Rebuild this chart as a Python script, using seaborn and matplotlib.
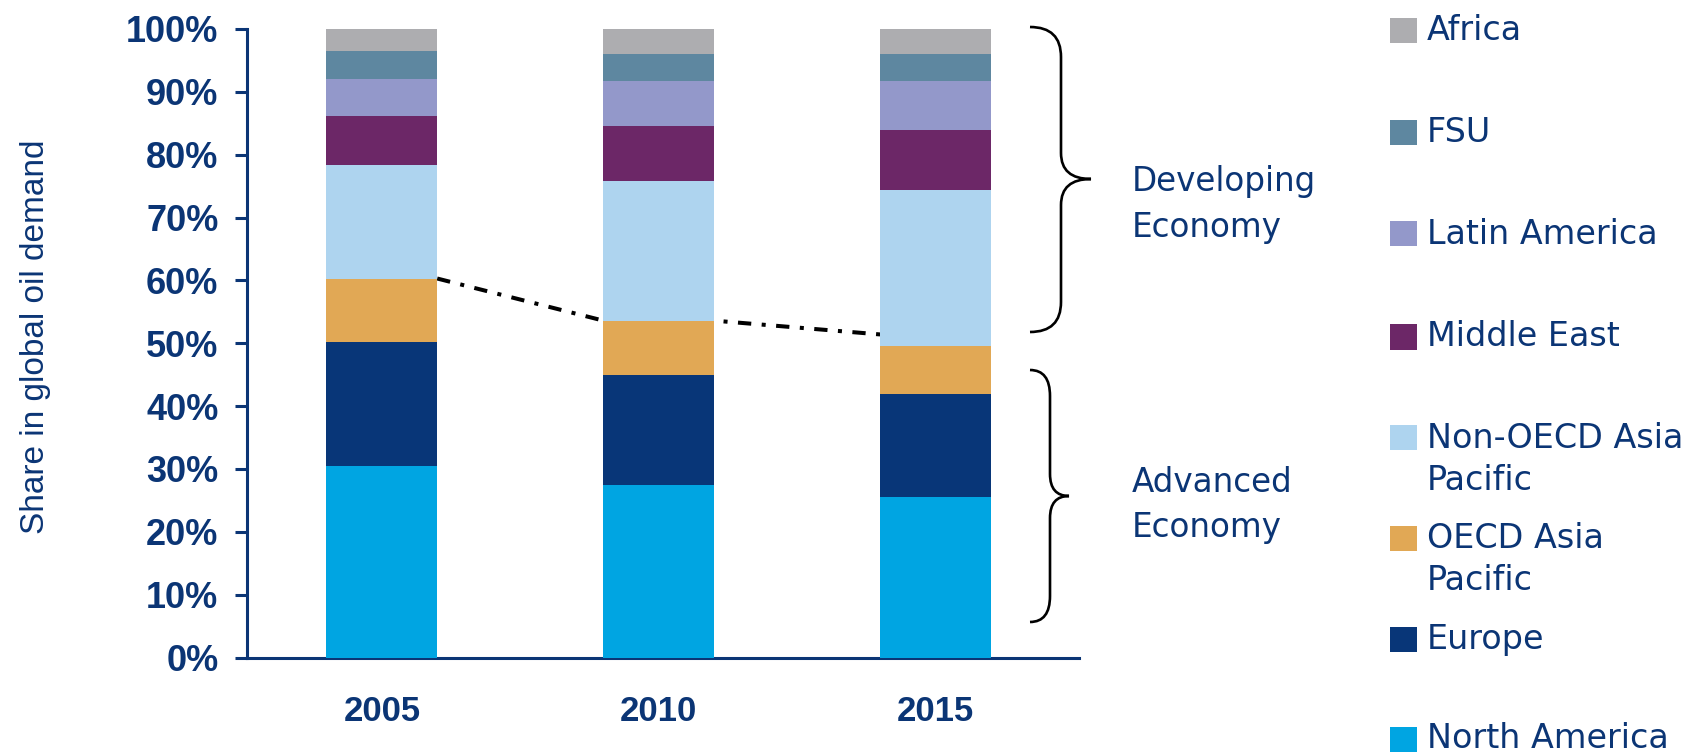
import matplotlib
matplotlib.use("Agg")
import matplotlib.pyplot as plt
import seaborn as sns
import numpy as np
from matplotlib.path import Path
from matplotlib.patches import PathPatch, Rectangle
from matplotlib.ticker import PercentFormatter, FixedLocator

# Share in global oil demand (%) by region
years = ["2005", "2010", "2015"]
north_america = [30.4, 27.4, 25.5]
europe = [19.8, 17.6, 16.5]
oecd_asia_pacific = [10.1, 8.6, 7.6]
non_oecd_asia_pacific = [18.1, 22.2, 24.8]
middle_east = [7.7, 8.7, 9.6]
latin_america = [6.0, 7.2, 7.7]
fsu = [4.4, 4.4, 4.4]
africa = [3.5, 3.9, 3.9]

# bottom-to-top stacking order
regions = ["North America", "Europe", "OECD Asia Pacific", "Non-OECD Asia Pacific",
           "Middle East", "Latin America", "FSU", "Africa"]
series = [north_america, europe, oecd_asia_pacific, non_oecd_asia_pacific,
          middle_east, latin_america, fsu, africa]
colors = ["#00A5E2", "#083678", "#E1A855", "#AED4EF",
          "#6C2767", "#9398CA", "#5E87A0", "#ADADB0"]
legend_labels = {
    "Non-OECD Asia Pacific": ["Non-OECD Asia", "Pacific"],
    "OECD Asia Pacific": ["OECD Asia", "Pacific"],
}
y_ticks = list(range(0, 101, 10))
trend_end_share = 51.4  # where the dash-dot guide meets the 2015 bar

NAVY = "#0B3575"
W, H = 1697, 755

sns.set_style("white")
plt.rcParams["font.family"] = ["DejaVu Sans"]

fig = plt.figure(figsize=(W / 100, H / 100), dpi=100)
ax = fig.add_axes([247 / W, 1 - 657.5 / H, 832 / W, (657.5 - 29) / H])


def px(x, y):
    """Figure pixel (from top-left) to figure fraction."""
    return x / W, 1 - y / H


# stacked bars: draw cumulative totals from the top segment down
cum = np.cumsum(np.array(series), axis=0)
for i in range(len(series) - 1, -1, -1):
    sns.barplot(x=years, y=cum[i], color=colors[i], width=0.4, saturation=1,
                ax=ax, linewidth=0, edgecolor="none", zorder=3)

# dash-dot guide along the advanced/developing boundary
adv_top = cum[2]
ax.plot([0.2, 0.8, 1.2, 1.8],
        [adv_top[0], adv_top[1], adv_top[1], trend_end_share],
        color="black", lw=2.9, linestyle=(0, (3.3, 2.6, 1, 2.6)),
        solid_capstyle="butt", dash_capstyle="butt", zorder=1)

ax.set_xlim(-0.487, 2.518)
ax.set_ylim(0, 100)
ax.yaxis.set_major_locator(FixedLocator(y_ticks))
ax.yaxis.set_major_formatter(PercentFormatter(100, decimals=0))
ax.set_xticks([0, 1, 2])
ax.set_xticklabels(years)
ax.xaxis.set_minor_locator(FixedLocator([-0.487, 0.514, 1.514, 2.518]))
ax.tick_params(axis="x", which="major", length=0, pad=27)
ax.tick_params(axis="x", which="minor", length=8, width=2.2, color=NAVY, direction="out")
ax.tick_params(axis="y", length=8.6, width=2.2, color=NAVY, direction="out", pad=12,
               left=True)
for lab in ax.get_yticklabels():
    lab.set_fontsize(26)
    lab.set_fontweight("bold")
    lab.set_color(NAVY)
    lab.set_family(["Liberation Sans"])
for lab in ax.get_xticklabels():
    lab.set_fontsize(25)
    lab.set_fontweight("bold")
    lab.set_color(NAVY)
    lab.set_family(["Liberation Sans"])

for s in ["top", "right"]:
    ax.spines[s].set_visible(False)
for s in ["left", "bottom"]:
    ax.spines[s].set_color(NAVY)
    ax.spines[s].set_linewidth(2.2)
ax.set_xlabel("")
ax.set_ylabel("")

fig.text(*px(36, 337), "Share in global oil demand", rotation=90, ha="center",
         va="center", fontsize=24, color=NAVY, family=["Liberation Sans"])


def brace(x0, x1, x2, ytop, ymid, ybot, r, rm):
    verts = [px(x0, ytop), px(x1, ytop), px(x1, ytop + r),
             px(x1, ymid - rm), px(x1, ymid), px(x2, ymid),
             px(x1, ymid), px(x1, ymid + rm),
             px(x1, ybot - r), px(x1, ybot), px(x0, ybot)]
    codes = [Path.MOVETO, Path.CURVE3, Path.CURVE3,
             Path.LINETO, Path.CURVE3, Path.CURVE3,
             Path.CURVE3, Path.CURVE3,
             Path.LINETO, Path.CURVE3, Path.CURVE3]
    fig.add_artist(PathPatch(Path(verts, codes), transform=fig.transFigure,
                             fill=False, lw=1.9, color="black"))


brace(1030, 1061, 1091, 27, 179, 332, 30, 26)
brace(1030, 1050, 1069, 370, 496, 622, 26, 22)

fig.text(*px(1132, 204), "Developing\nEconomy", ha="left", va="center",
         fontsize=23.5, color=NAVY, linespacing=1.5)
fig.text(*px(1132, 505), "Advanced\nEconomy", ha="left", va="center",
         fontsize=23.5, color=NAVY, linespacing=1.5)

# legend, top to bottom
row_y = [30, 132, 234, 337, 438, 538, 639, 739]
for k, idx in enumerate(range(len(regions) - 1, -1, -1)):
    name = regions[idx]
    y = row_y[k]
    x0, y0 = px(1390, y + 12.5)
    fig.add_artist(Rectangle((x0, y0), 27 / W, 25 / H, transform=fig.transFigure,
                             facecolor=colors[idx], edgecolor="none"))
    lines = legend_labels.get(name, [name])
    for j, line in enumerate(lines):
        fig.text(*px(1427, y + j * 42), line, ha="left", va="center",
                 fontsize=24, color=NAVY)

fig.savefig("out.png", dpi=100)
